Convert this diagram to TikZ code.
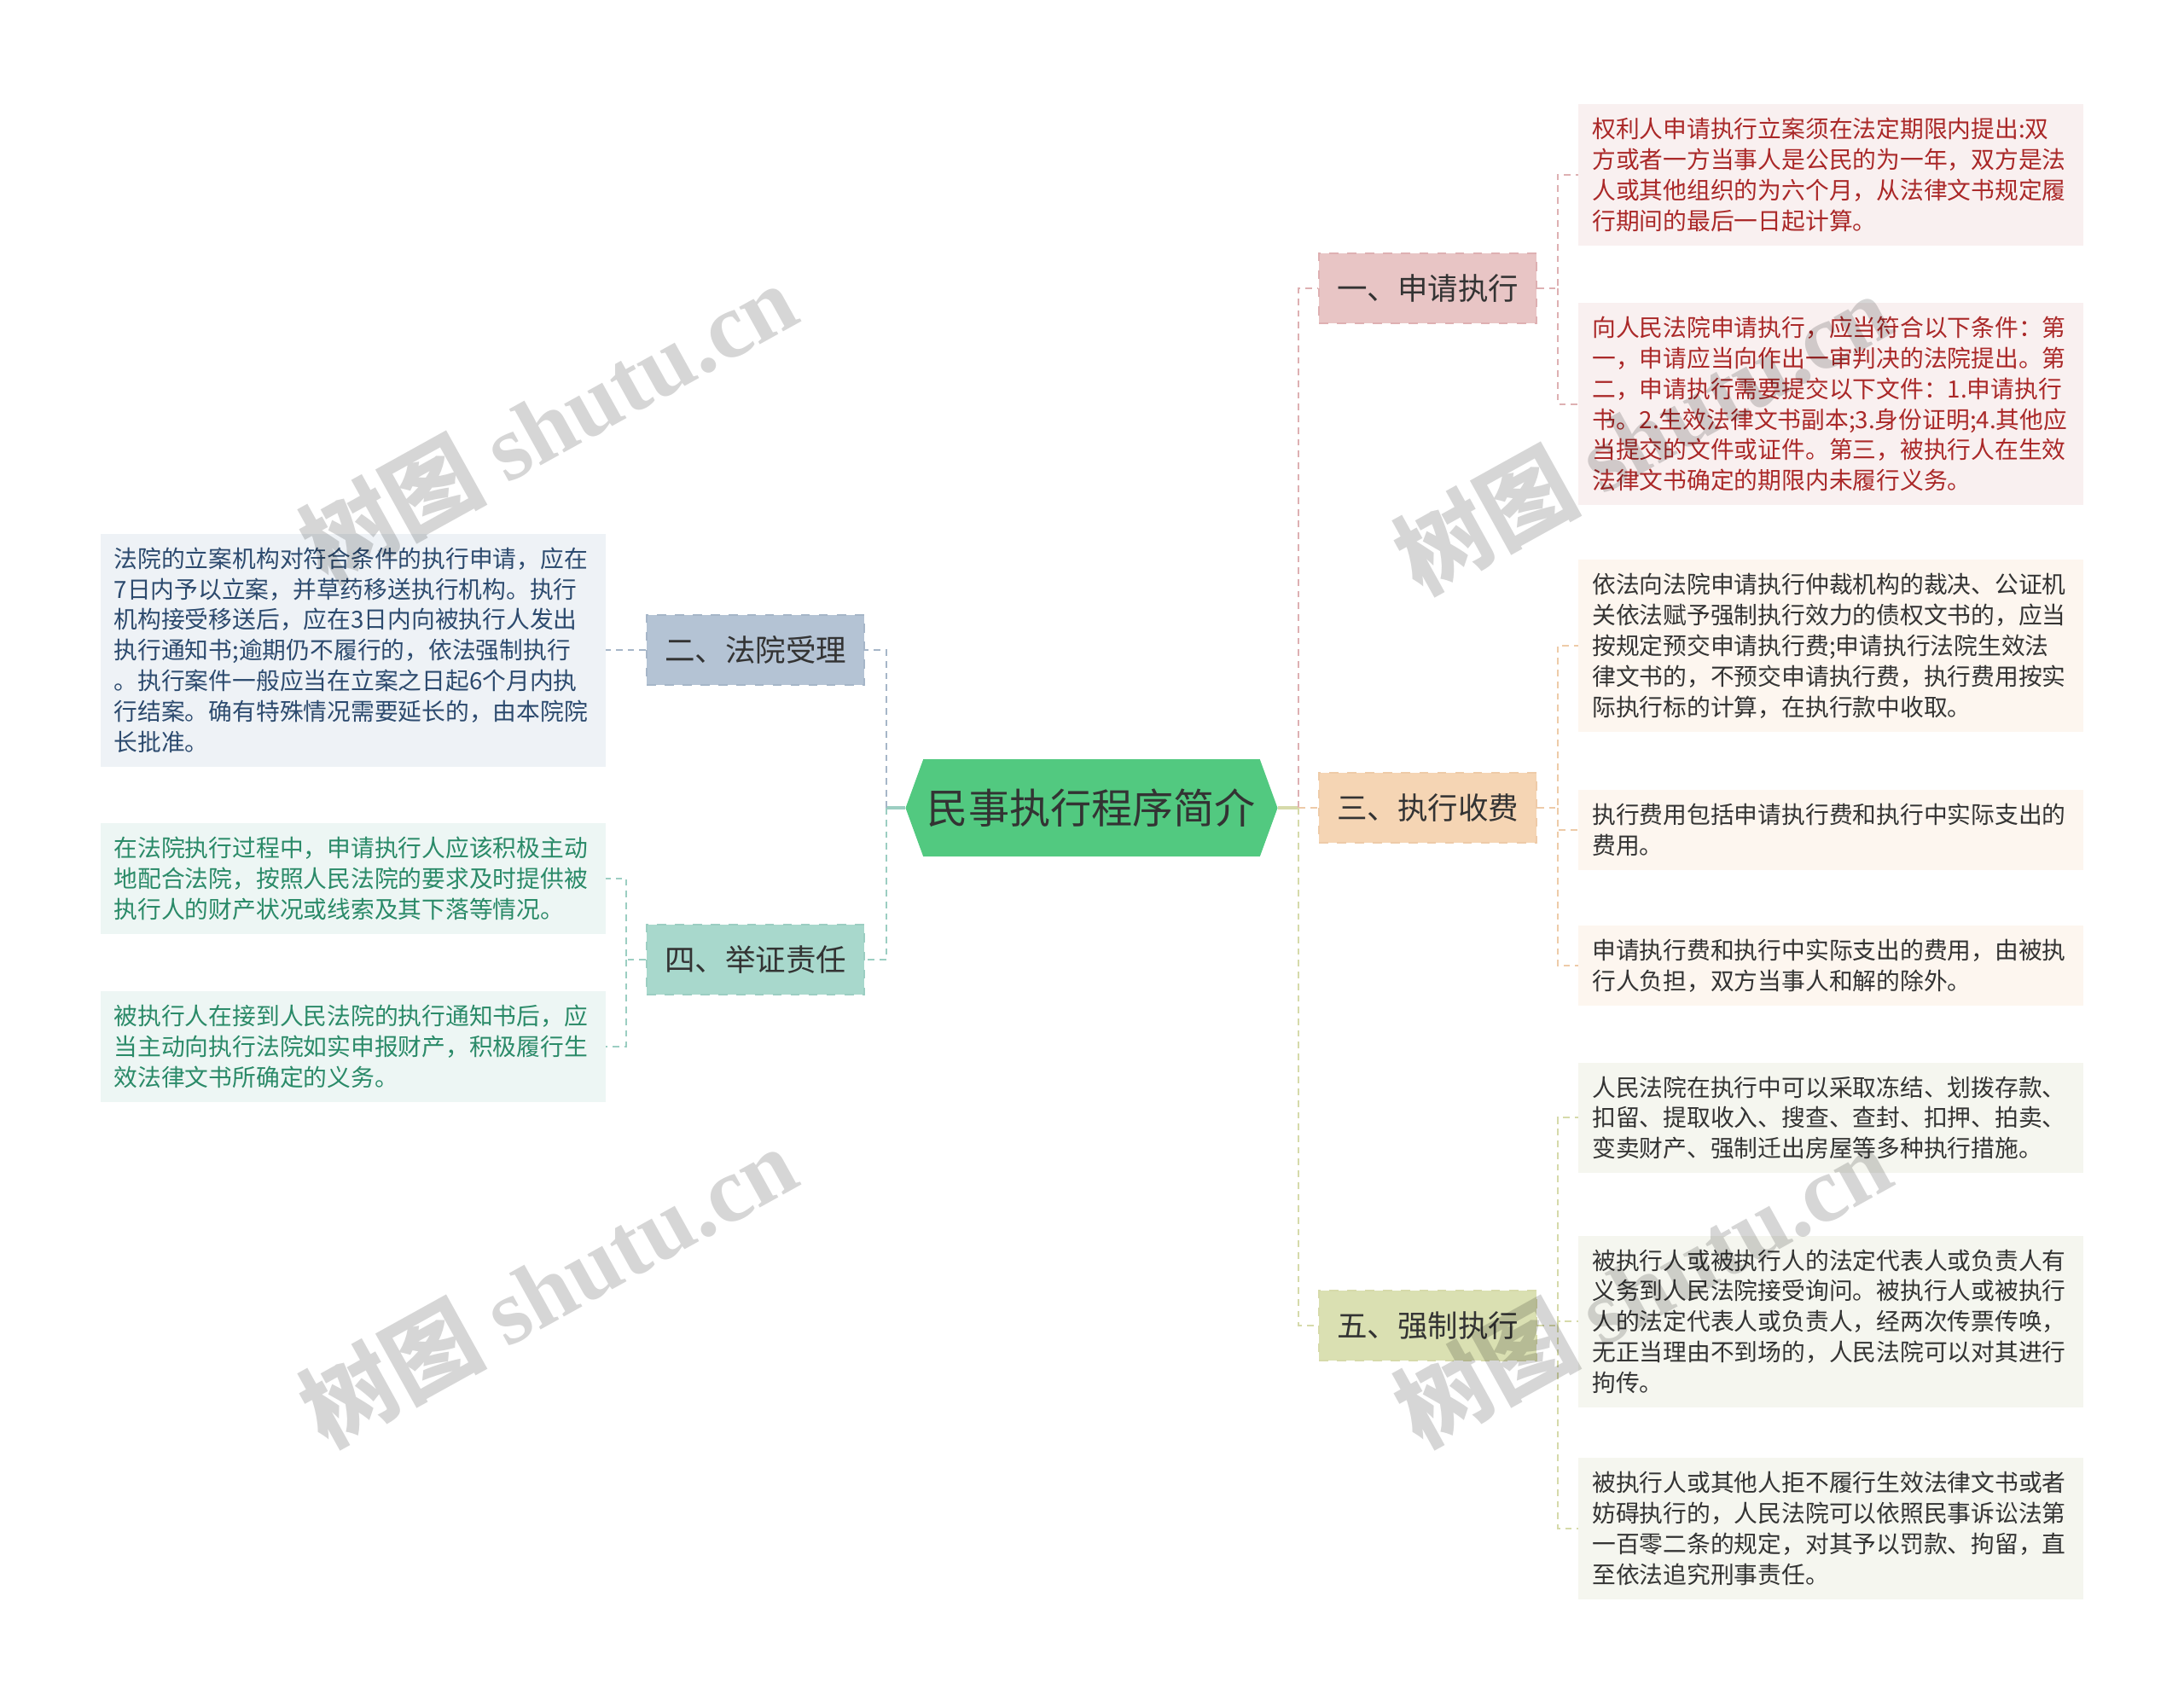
\documentclass[tikz,border=0pt]{standalone}
\usepackage{fontspec}
\setmainfont{Noto Sans CJK SC}
\newfontfamily\wmlatin{Liberation Serif}
\usepackage{tikz}
\usetikzlibrary{shapes.symbols,positioning}
\usepackage{xcolor}
\definecolor{sxgreen}{RGB}{82,201,128}
\definecolor{sxpink}{RGB}{232,197,197}
\definecolor{sxpinkline}{RGB}{222,176,178}
\definecolor{sxblue}{RGB}{180,195,212}
\definecolor{sxblueline}{RGB}{166,182,200}
\definecolor{sxpeach}{RGB}{245,213,180}
\definecolor{sxpeachline}{RGB}{238,203,168}
\definecolor{sxmint}{RGB}{168,216,204}
\definecolor{sxmintline}{RGB}{156,206,194}
\definecolor{sxolive}{RGB}{218,224,178}
\definecolor{sxoliveline}{RGB}{214,218,170}
\definecolor{lfpink}{RGB}{249,240,240}
\definecolor{lfcream}{RGB}{253,246,239}
\definecolor{lfgrey}{RGB}{245,246,239}
\definecolor{lfblue}{RGB}{238,242,246}
\definecolor{lfmint}{RGB}{237,246,244}
\definecolor{txred}{RGB}{170,40,40}
\definecolor{txdark}{RGB}{51,51,51}
\definecolor{txblue}{RGB}{44,74,110}
\definecolor{txteal}{RGB}{42,138,104}
\tikzstyle{topic} = [signal, signal to=east and west, signal pointer angle=140, fill=sxgreen, minimum width=4.36cm, minimum height=1.14cm, inner sep=0pt, text=txdark, font=\fontsize{13.7}{16}\selectfont]
\tikzstyle{branch} = [rectangle, minimum width=2.55cm, minimum height=0.82cm, inner sep=0pt, dashed, line width=0.5pt, text=txdark, font=\fontsize{10.1}{12}\selectfont]
\tikzstyle{leaf} = [rectangle, align=left, text width=5.6cm, inner xsep=0.16cm, inner ysep=0.16cm, font=\fontsize{7.9}{10.2}\selectfont]
\tikzstyle{link} = [line width=0.55pt, dash pattern=on 2.2pt off 1.7pt]
\tikzstyle{stub} = [line width=1.2pt]
\tikzstyle{wmark} = [text=black, opacity=0.16, rotate=29, font=\fontsize{31}{36}\selectfont\bfseries]

\begin{document}
\begin{tikzpicture}[x=0.00995cm, y=-0.00995cm]
\useasboundingbox (0,0) rectangle (2573,2010);
% Topic
\node (topic) [topic] at (1286,952) {民事执行程序简介};

% Branches
\node (b1) [branch, fill=sxpink, draw=sxpinkline] at (1682,340) {一、申请执行};
\node (b3) [branch, fill=sxpeach, draw=sxpeachline] at (1682,952) {三、执行收费};
\node (b5) [branch, fill=sxolive, draw=sxoliveline] at (1682,1562) {五、强制执行};
\node (b2) [branch, fill=sxblue, draw=sxblueline] at (890,766) {二、法院受理};
\node (b4) [branch, fill=sxmint, draw=sxmintline] at (890,1131) {四、举证责任};

% Leaves of 一
\node (r1) [leaf, anchor=west, fill=lfpink, text=txred] at (1859,206) {权利人申请执行立案须在法定期限内提出:双\\方或者一方当事人是公民的为一年，双方是法\\人或其他组织的为六个月，从法律文书规定履\\行期间的最后一日起计算。};
\node (r2) [leaf, anchor=west, fill=lfpink, text=txred] at (1859,476) {向人民法院申请执行，应当符合以下条件：第\\一，申请应当向作出一审判决的法院提出。第\\二，申请执行需要提交以下文件：1.申请执行\\书。2.生效法律文书副本;3.身份证明;4.其他应\\当提交的文件或证件。第三，被执行人在生效\\法律文书确定的期限内未履行义务。};

% Leaves of 三
\node (r3) [leaf, anchor=west, fill=lfcream, text=txdark] at (1859,761) {依法向法院申请执行仲裁机构的裁决、公证机\\关依法赋予强制执行效力的债权文书的，应当\\按规定预交申请执行费;申请执行法院生效法\\律文书的，不预交申请执行费，执行费用按实\\际执行标的计算，在执行款中收取。};
\node (r4) [leaf, anchor=west, fill=lfcream, text=txdark] at (1859,978) {执行费用包括申请执行费和执行中实际支出的\\费用。};
\node (r5) [leaf, anchor=west, fill=lfcream, text=txdark] at (1859,1138) {申请执行费和执行中实际支出的费用，由被执\\行人负担，双方当事人和解的除外。};

% Leaves of 五
\node (r6) [leaf, anchor=west, fill=lfgrey, text=txdark] at (1859,1317) {人民法院在执行中可以采取冻结、划拨存款、\\扣留、提取收入、搜查、查封、扣押、拍卖、\\变卖财产、强制迁出房屋等多种执行措施。};
\node (r7) [leaf, anchor=west, fill=lfgrey, text=txdark] at (1859,1557) {被执行人或被执行人的法定代表人或负责人有\\义务到人民法院接受询问。被执行人或被执行\\人的法定代表人或负责人，经两次传票传唤，\\无正当理由不到场的，人民法院可以对其进行\\拘传。};
\node (r8) [leaf, anchor=west, fill=lfgrey, text=txdark] at (1859,1801) {被执行人或其他人拒不履行生效法律文书或者\\妨碍执行的，人民法院可以依照民事诉讼法第\\一百零二条的规定，对其予以罚款、拘留，直\\至依法追究刑事责任。};

% Leaves of 二 and 四
\node (l1) [leaf, anchor=east, fill=lfblue, text=txblue] at (714,766) {法院的立案机构对符合条件的执行申请，应在\\7日内予以立案，并草药移送执行机构。执行\\机构接受移送后，应在3日内向被执行人发出\\执行通知书;逾期仍不履行的，依法强制执行\\。执行案件一般应当在立案之日起6个月内执\\行结案。确有特殊情况需要延长的，由本院院\\长批准。};
\node (l2) [leaf, anchor=east, fill=lfmint, text=txteal] at (714,1035) {在法院执行过程中，申请执行人应该积极主动\\地配合法院，按照人民法院的要求及时提供被\\执行人的财产状况或线索及其下落等情况。};
\node (l3) [leaf, anchor=east, fill=lfmint, text=txteal] at (714,1233) {被执行人在接到人民法院的执行通知书后，应\\当主动向执行法院如实申报财产，积极履行生\\效法律文书所确定的义务。};

% Topic to branches
\coordinate (rtrunk) at (1530,952);
\coordinate (ltrunk) at (1044,952);
\draw[stub, sxoliveline] (topic.east) -- (rtrunk);
\draw[stub, sxmintline] (topic.west) -- (ltrunk);
\draw[link, sxpinkline] (rtrunk) |- (b1.west);
\draw[link, sxpeachline] (rtrunk) -- (b3.west);
\draw[link, sxoliveline] (rtrunk) |- (b5.west);
\draw[link, sxblueline] (ltrunk) |- (b2.east);
\draw[link, sxmintline] (ltrunk) |- (b4.east);

% Branches to leaves
\coordinate (j1) at (1835,340);
\coordinate (j3) at (1835,952);
\coordinate (j5) at (1835,1562);
\coordinate (j4) at (738,1131);
\draw[link, sxpinkline] (b1.east) -- (j1) |- (r1.west);
\draw[link, sxpinkline] (j1) |- (r2.west);
\draw[link, sxpeachline] (b3.east) -- (j3) |- (r3.west);
\draw[link, sxpeachline] (j3) |- (r4.west);
\draw[link, sxpeachline] (j3) |- (r5.west);
\draw[link, sxoliveline] (b5.east) -- (j5) |- (r6.west);
\draw[link, sxoliveline] (j5) |- (r7.west);
\draw[link, sxoliveline] (j5) |- (r8.west);
\draw[link, sxblueline] (b2.west) -- (b2.west -| l1.east);
\draw[link, sxmintline] (b4.west) -- (j4) |- (l2.east);
\draw[link, sxmintline] (j4) |- (l3.east);

% Watermarks
\node (wm1) [wmark] at (645,497) {树图 {\wmlatin shutu.cn}};
\node (wm2) [wmark] at (645,1515) {树图 {\wmlatin shutu.cn}};
\node (wm3) [wmark] at (1935,510) {树图 {\wmlatin shutu.cn}};
\node (wm4) [wmark] at (1935,1515) {树图 {\wmlatin shutu.cn}};
\end{tikzpicture}
\end{document}
